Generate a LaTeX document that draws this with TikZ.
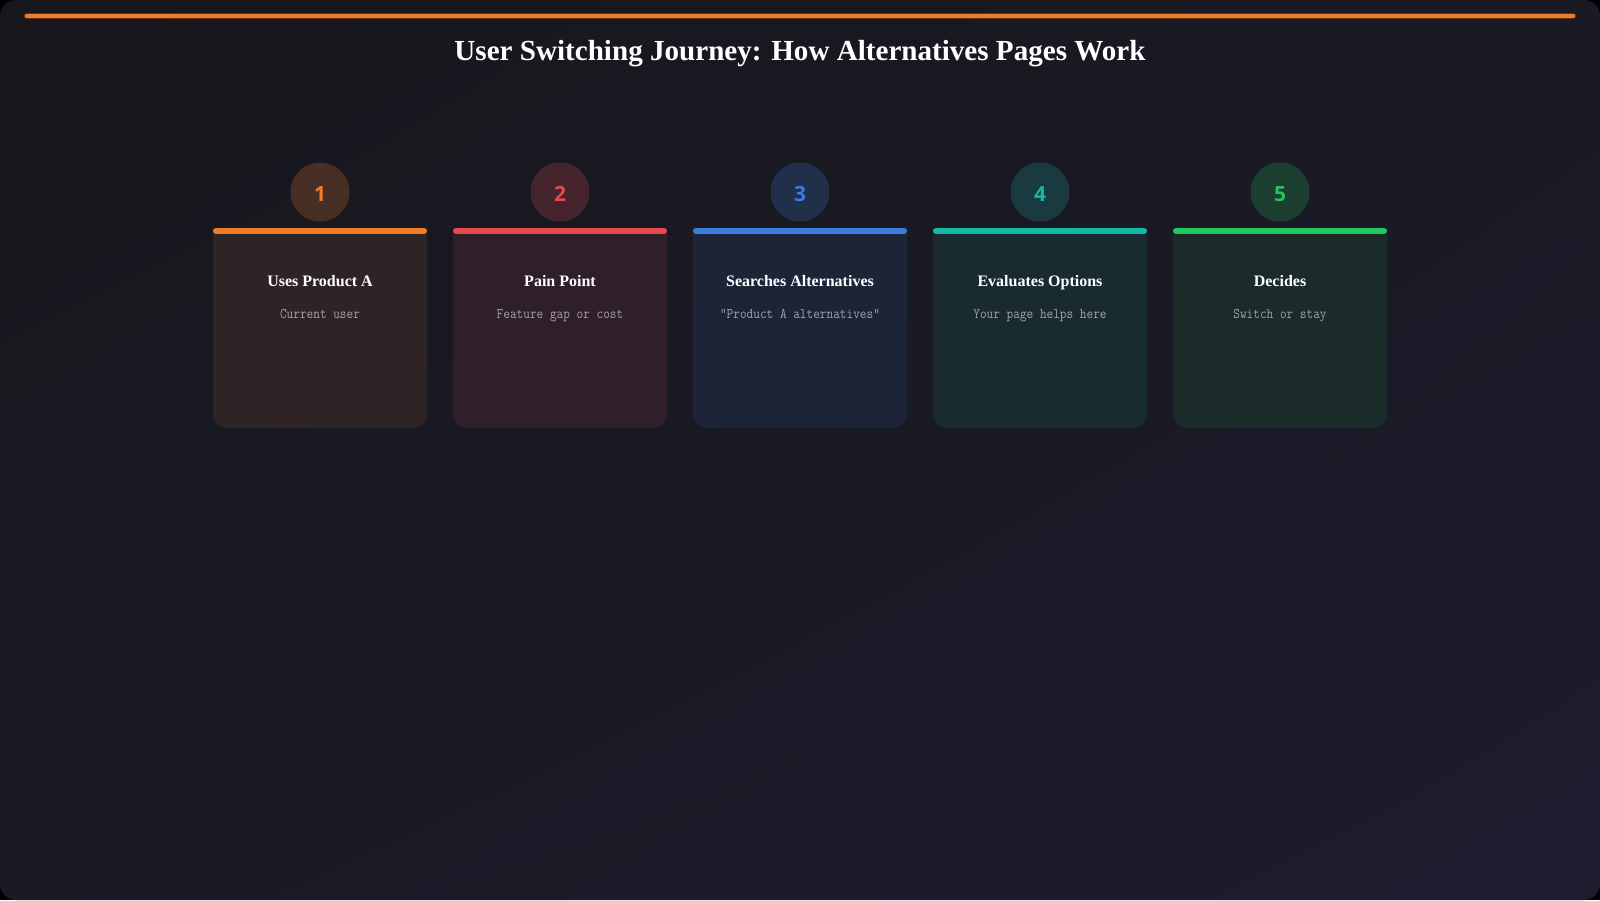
\documentclass[tikz,border=0pt]{standalone}
\usepackage{fontspec}
\setmainfont{Liberation Serif}
\newfontfamily\digitfont{Open Sans}
\newfontfamily\subfont{Latin Modern Mono}[FakeStretch=0.88]
\usetikzlibrary{shadings}
\definecolor{bgA}{HTML}{16161B}
\definecolor{bgM}{HTML}{1A1A25}
\definecolor{bgB}{HTML}{1D1C2F}
\definecolor{bgC}{HTML}{1A1A24}
\definecolor{cOrange}{HTML}{F07C2A}
\definecolor{cRed}{HTML}{E5484D}
\definecolor{cBlue}{HTML}{3B7DDD}
\definecolor{cTeal}{HTML}{14B8A6}
\definecolor{cGreen}{HTML}{22C55E}
\definecolor{subgray}{HTML}{A2A2A8}
\tikzset{
  cardbox/.style={rectangle, rounded corners=14pt, minimum width=214pt, minimum height=200pt, inner sep=0pt},
  numdisc/.style={circle, minimum size=59pt, inner sep=0pt},
  numtext/.style={anchor=base, inner sep=0pt, font=\digitfont\bfseries\fontsize{21}{24}\selectfont},
  cardtitle/.style={anchor=base, text=white, inner sep=0pt, font=\bfseries\fontsize{16}{19}\selectfont},
  cardsub/.style={anchor=base, text=subgray, inner sep=0pt, font=\subfont\fontsize{14.7}{17}\selectfont},
  maintitle/.style={anchor=base, text=white, inner sep=0pt, font=\bfseries\fontsize{29.1}{34}\selectfont}
}
\begin{document}
\begin{tikzpicture}[x=1pt,y=-1pt]
\useasboundingbox (0,0) rectangle (1600,900);
\fill[black] (0,0) rectangle (1600,900);
\shade[rounded corners=16pt, upper left=bgA, upper right=bgM, lower left=bgM, lower right=bgB] (0,0) rectangle (1600,900);
% top accent line
\coordinate (tl) at (27,16);
\coordinate (tr) at (1573,16);
\draw[cOrange!40!black, line width=6.5pt, line cap=round] (tl) -- (tr);
\draw[cOrange, line width=4.5pt, line cap=round] (tl) -- (tr);
% title
\node[maintitle] (title) at (800,60) {User Switching Journey: How Alternatives Pages Work};
% cards
\foreach \i/\cx/\col/\t/\s in {
  1/320/cOrange/{Uses Product A}/{Current user},
  2/560/cRed/{Pain Point}/{Feature gap or cost},
  3/800/cBlue/{Searches Alternatives}/{"Product A alternatives"},
  4/1040/cTeal/{Evaluates Options}/{Your page helps here},
  5/1280/cGreen/{Decides}/{Switch or stay}} {
  \node[cardbox, fill=\col!10!bgC] (card\i) at (\cx,328) {};
  \fill[\col!10!bgC] (\cx-107,228) rectangle (\cx+107,250);
  \draw[\col, line width=6pt, line cap=round] (\cx-104,231) -- (\cx+104,231);
  \node[numdisc, fill=\col!21!bgC] (num\i) at (\cx,192) {};
  \node[numtext, text=\col] (digit\i) at (\cx,201.5) {\i};
  \node[cardtitle] (tt\i) at (\cx,286) {\t};
  \node[cardsub] (st\i) at (\cx,318) {\s};
}
\end{tikzpicture}
\end{document}
